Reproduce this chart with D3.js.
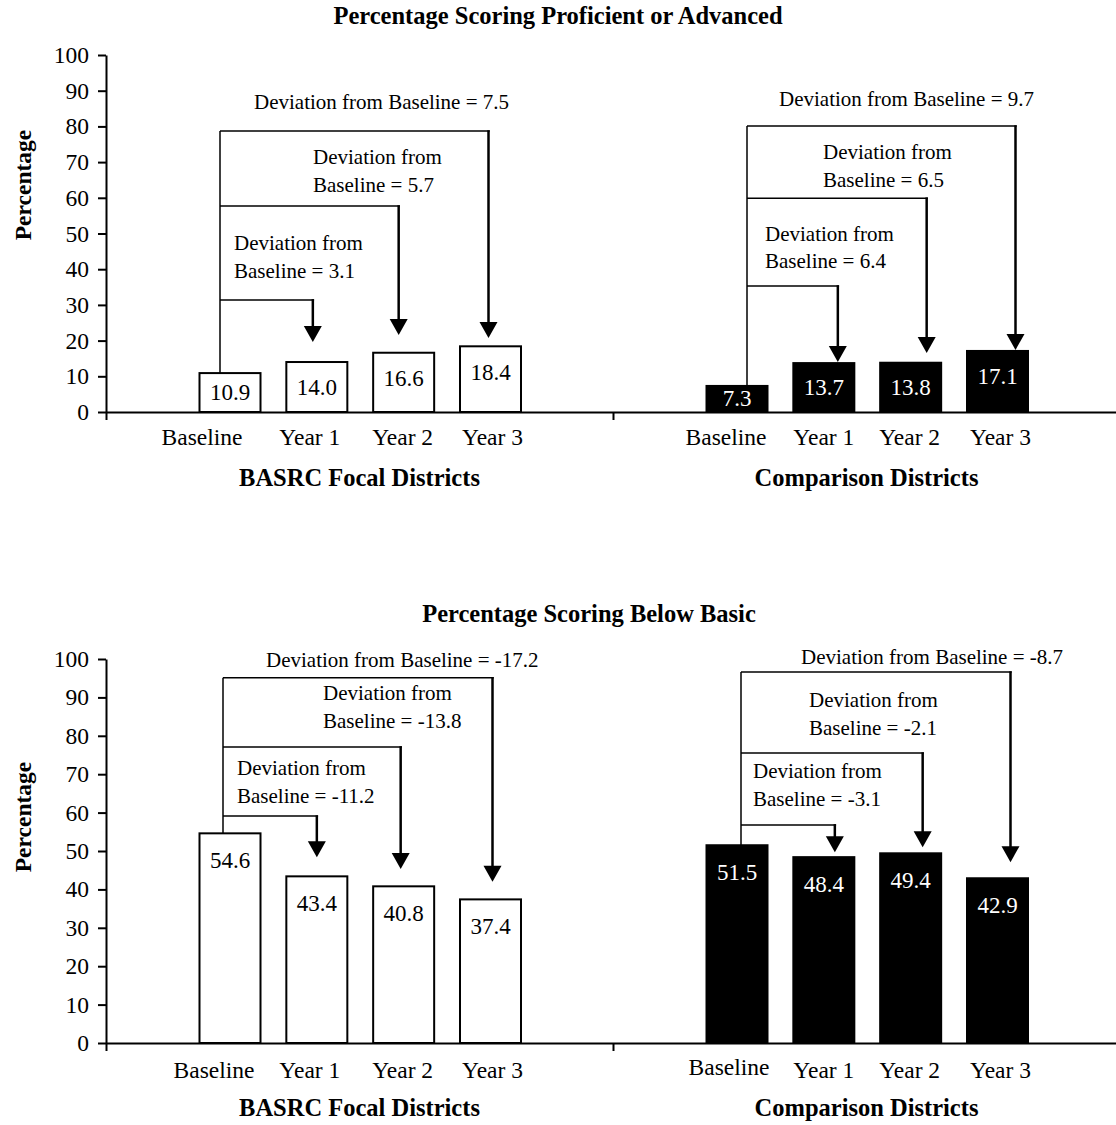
<!DOCTYPE html>
<html><head><meta charset="utf-8">
<script src="https://cdn.jsdelivr.net/npm/d3@7"></script>
<style>
html,body{margin:0;padding:0;background:#fff;}
svg{display:block;font-family:"Liberation Serif","Times New Roman",serif;}
</style></head>
<body><svg id="c" width="1116" height="1125"></svg>
<script>
// ---------- data ----------
const categories = ["Baseline", "Year 1", "Year 2", "Year 3"];
const groups = ["BASRC Focal Districts", "Comparison Districts"];
const yTicks = [0, 10, 20, 30, 40, 50, 60, 70, 80, 90, 100];

const proficientTitle = "Percentage Scoring Proficient or Advanced";
const proficientFocal = [10.9, 14.0, 16.6, 18.4];
const proficientComparison = [7.3, 13.7, 13.8, 17.1];
const proficientDevFocal = [3.1, 5.7, 7.5];
const proficientDevComparison = [6.4, 6.5, 9.7];

const belowTitle = "Percentage Scoring Below Basic";
const belowFocal = [54.6, 43.4, 40.8, 37.4];
const belowComparison = [51.5, 48.4, 49.4, 42.9];
const belowDevFocal = [-11.2, -13.8, -17.2];
const belowDevComparison = [-3.1, -2.1, -8.7];

// ---------- annotation layout (bracket levels / arrow tips / text in value units) ----------
const annProfFocal = {level: [31.4, 57.7, 78.7], tip: [19.6, 21.6, 20.7], textY: [47.3, 71.4, 86.8], textDx: [14, 93, 34], leftDx: -10, rightDx: [-4, -5, -2]};
const annProfComp  = {level: [35.3, 59.9, 80.1], tip: [14.0, 16.5, 17.4], textY: [49.9, 72.8, 87.7], textDx: [18, 76, 32], leftDx: 10, rightDx: [14, 16, 18]};
const annBelowFocal = {level: [59.1, 77.1, 95.1], tip: [48.4, 45.3, 42.0], textY: [71.6, 91.1, 99.7], textDx: [14, 100, 43], leftDx: -7, rightDx: [0, -3, 2]};
const annBelowComp  = {level: [56.8, 75.5, 96.6], tip: [49.7, 51.0, 47.1], textY: [70.8, 89.3, 100.5], textDx: [12, 68, 60], leftDx: 4, rightDx: [11, 12, 13]};

const charts = [
  {title: proficientTitle, titleX: 558, titleY: 15, y0: 412, y100: 55, yLabelY: 185,
   series: [proficientFocal, proficientComparison], devs: [proficientDevFocal, proficientDevComparison],
   ann: [annProfFocal, annProfComp], catY: 437, groupY: 477, labelOffset: 26,
   catDx: [[-28, -7, -1, 2], [-11, 0, -1, 3]], catDy: [[0,0,0,0],[0,0,0,0]]},
  {title: belowTitle, titleX: 589, titleY: 613, y0: 1043, y100: 659, yLabelY: 817,
   series: [belowFocal, belowComparison], devs: [belowDevFocal, belowDevComparison],
   ann: [annBelowFocal, annBelowComp], catY: 1070, groupY: 1107, labelOffset: 27,
   catDx: [[-16, -7, -1, 2], [-8, 0, -1, 3]], catDy: [[0,0,0,0],[-3,0,0,0]]}
];

const svg = d3.select("#c");
const fills = ["#fff", "#000"];
const textFills = ["#000", "#fff"];
const barW = 61;
const axisX = 106;

function drawChart(cfg) {
  const g = svg.append("g");
  const y = d3.scaleLinear().domain([0, 100]).range([cfg.y0, cfg.y100]);
  const gx = d3.scaleBand().domain(groups).range([axisX, 1120]);
  const cx = d3.scalePoint().domain(categories).range([124, 384.5]);
  const xc = (gi, c) => gx(groups[gi]) + cx(c);

  // title
  g.append("text").attr("x", cfg.titleX).attr("y", cfg.titleY)
    .attr("text-anchor", "middle").attr("dominant-baseline", "central")
    .attr("font-weight", "bold").attr("font-size", 24.5).text(cfg.title);

  // y label
  g.append("text").attr("transform", `translate(23,${cfg.yLabelY}) rotate(-90)`)
    .attr("text-anchor", "middle").attr("dominant-baseline", "central")
    .attr("font-weight", "bold").attr("font-size", 23.5).text("Percentage");

  // bars + value labels
  cfg.series.forEach((vals, gi) => {
    const data = categories.map((c, i) => ({c, v: vals[i]}));
    g.selectAll(null).data(data).enter().append("rect")
      .attr("x", d => xc(gi, d.c) - barW / 2).attr("width", barW)
      .attr("y", d => y(d.v)).attr("height", d => y(0) - y(d.v))
      .attr("fill", fills[gi]).attr("stroke", "#000").attr("stroke-width", 2);
    g.selectAll(null).data(data).enter().append("text")
      .attr("x", d => xc(gi, d.c))
      .attr("y", d => Math.min(y(d.v) + cfg.labelOffset, (y(d.v) + y(0)) / 2))
      .attr("text-anchor", "middle").attr("dominant-baseline", "central")
      .attr("font-size", 23).attr("fill", textFills[gi])
      .text(d => d.v.toFixed(1));
  });

  // y axis
  const ya = g.append("g").attr("transform", `translate(${axisX},0)`)
    .call(d3.axisLeft(y).tickValues(yTicks).tickSize(8).tickSizeOuter(0).tickPadding(9));
  ya.select(".domain").attr("stroke", "#000").attr("stroke-width", 2);
  ya.selectAll(".tick line").attr("stroke", "#000").attr("stroke-width", 2);
  ya.selectAll(".tick text").attr("font-size", 23.5).attr("font-family", "Liberation Serif, serif").attr("fill", "#000");

  // x axis (group boundaries as ticks)
  const xb = d3.scaleLinear().domain([0, groups.length]).range(gx.range());
  const xa = g.append("g").attr("transform", `translate(0,${cfg.y0})`)
    .call(d3.axisBottom(xb).tickValues(d3.range(groups.length + 1)).tickSize(8).tickSizeOuter(0).tickFormat(""));
  xa.select(".domain").attr("stroke", "#000").attr("stroke-width", 2);
  xa.selectAll(".tick line").attr("stroke", "#000").attr("stroke-width", 2);

  // category labels
  groups.forEach((grp, gi) => {
    g.selectAll(null).data(categories).enter().append("text")
      .attr("x", (c, i) => xc(gi, c) + cfg.catDx[gi][i])
      .attr("y", (c, i) => cfg.catY + cfg.catDy[gi][i])
      .attr("text-anchor", "middle").attr("dominant-baseline", "central")
      .attr("font-size", 23.5).text(c => c);
    g.append("text").attr("x", gx(grp) + gx.bandwidth() / 2).attr("y", cfg.groupY)
      .attr("text-anchor", "middle").attr("dominant-baseline", "central")
      .attr("font-weight", "bold").attr("font-size", 24.5).text(grp);
  });

  // deviation annotations
  const headW = 18, headH = 16;
  cfg.series.forEach((vals, gi) => {
    const a = cfg.ann[gi];
    const devs = cfg.devs[gi];
    const lx = xc(gi, categories[0]) + a.leftDx;
    // left vertical from highest bracket down to baseline bar
    g.append("line").attr("x1", lx).attr("x2", lx)
      .attr("y1", y(d3.max(a.level))).attr("y2", y(vals[0]))
      .attr("stroke", "#000").attr("stroke-width", 1.5);
    devs.forEach((dv, k) => {
      const tx = xc(gi, categories[k + 1]) + a.rightDx[k];
      const ly = y(a.level[k]);
      const tipY = y(a.tip[k]);
      g.append("line").attr("x1", lx).attr("x2", tx + 1.25).attr("y1", ly).attr("y2", ly)
        .attr("stroke", "#000").attr("stroke-width", 1.5);
      g.append("line").attr("x1", tx).attr("x2", tx).attr("y1", ly - 0.75).attr("y2", tipY - headH + 1)
        .attr("stroke", "#000").attr("stroke-width", 2.5);
      g.append("path")
        .attr("d", `M${tx - headW / 2},${tipY - headH}L${tx + headW / 2},${tipY - headH}L${tx},${tipY}Z`)
        .attr("fill", "#000");
      const lines = k === devs.length - 1
        ? [`Deviation from Baseline = ${dv.toFixed(1)}`]
        : ["Deviation from", `Baseline = ${dv.toFixed(1)}`];
      const t = g.append("text").attr("x", lx + a.textDx[k]).attr("y", y(a.textY[k]))
        .attr("dominant-baseline", "central").attr("font-size", 21);
      lines.forEach((ln, li) => {
        t.append("tspan").attr("x", lx + a.textDx[k]).attr("dy", li === 0 ? 0 : 27.5).text(ln);
      });
    });
  });
}

charts.forEach(drawChart);
</script>
</body></html>
